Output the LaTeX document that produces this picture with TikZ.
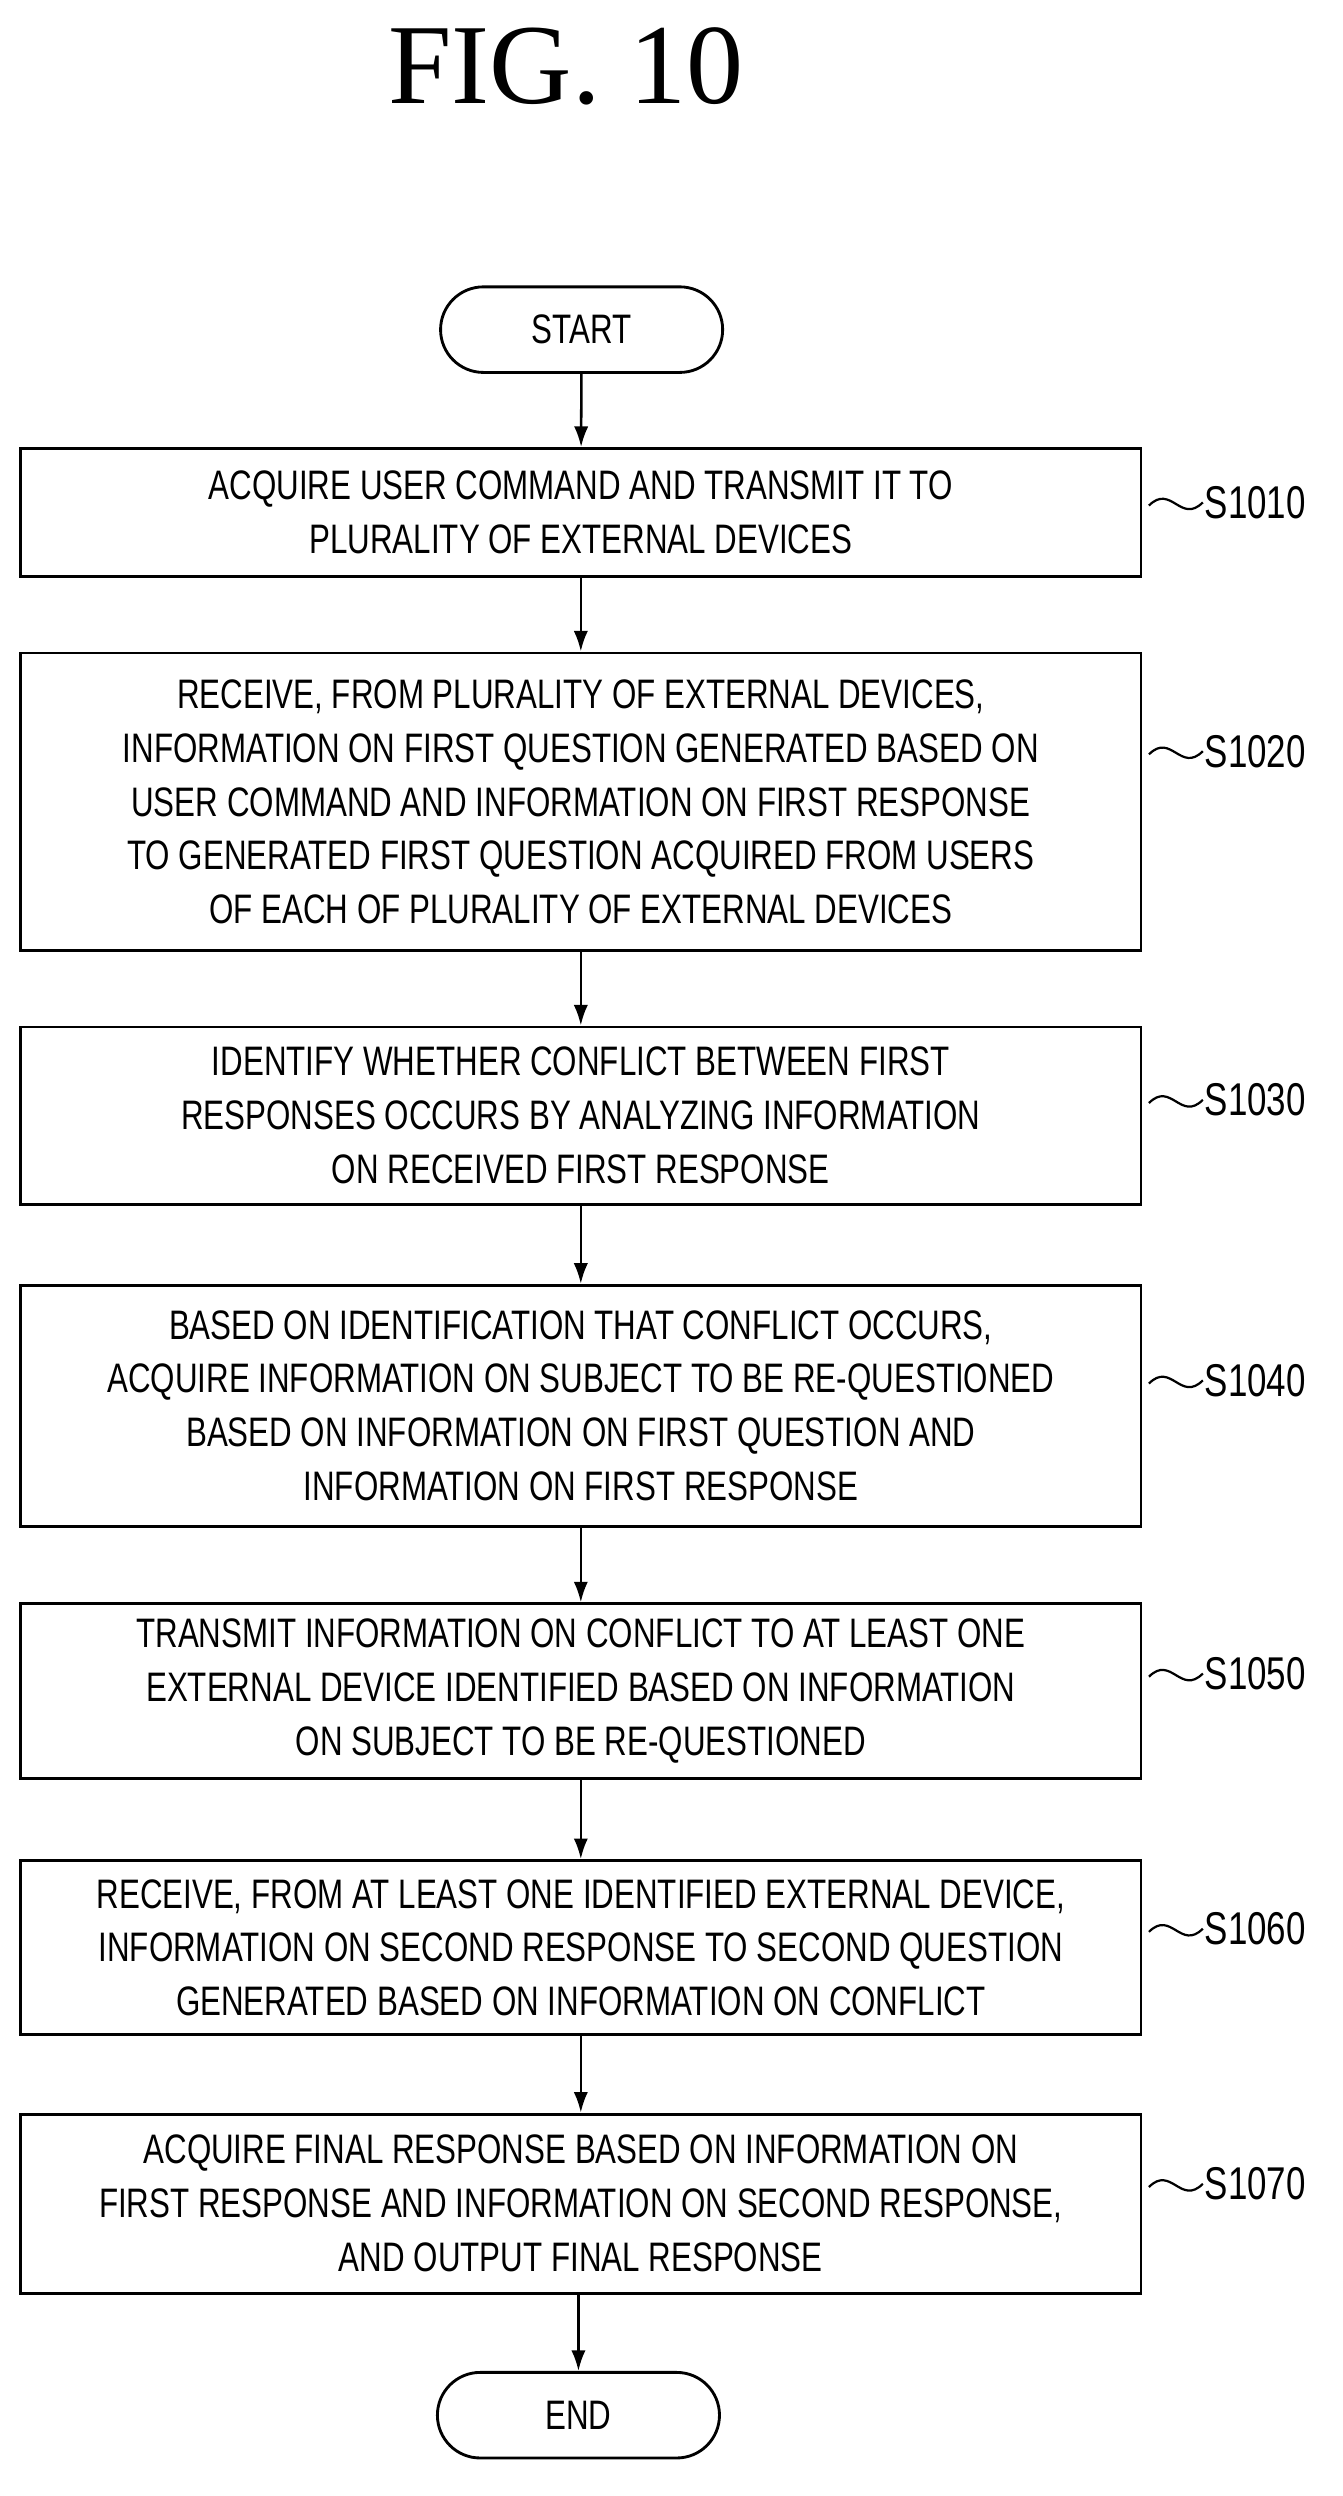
\documentclass[tikz,border=0pt]{standalone}
\usepackage{fontspec}
\setmainfont{Liberation Sans}[FakeStretch=0.76]
\newfontfamily\titlefont{Liberation Serif}
\usetikzlibrary{arrows.meta,positioning}
\newcommand\boxwidth{707pt}
\newcommand\boxx{366.5}

\begin{document}
\begin{tikzpicture}[x=1pt,y=-1pt,
    stepbox/.style={draw,line width=1.8pt,minimum width=\boxwidth,align=center,
      font=\fontsize{26}{34}\selectfont,inner sep=0pt},
    termbox/.style={draw,line width=1.8pt,rounded corners=27pt,minimum width=178pt,
      minimum height=54pt,font=\fontsize{26}{34}\selectfont},
    steplabel/.style={font=\fontsize{29}{34}\selectfont,inner sep=1pt},
    flow/.style={line width=1.6pt,-{Latex[length=13pt,width=9pt]}},
    wave/.style={line width=1.4pt}]
    \useasboundingbox (0,0) rectangle (847,1575);

    \node[font=\titlefont\fontsize{72}{72}\selectfont] (title) at (357,42) {FIG. 10};

    \node[termbox] (start) at (367,208) {START};
    \node[stepbox,minimum height=81pt] (b1) at (\boxx,323.5) {ACQUIRE USER COMMAND AND TRANSMIT IT TO\\PLURALITY OF EXTERNAL DEVICES};
    \node[stepbox,minimum height=188pt] (b2) at (\boxx,506) {RECEIVE, FROM PLURALITY OF EXTERNAL DEVICES,\\INFORMATION ON FIRST QUESTION GENERATED BASED ON\\USER COMMAND AND INFORMATION ON FIRST RESPONSE\\TO GENERATED FIRST QUESTION ACQUIRED FROM USERS\\OF EACH OF PLURALITY OF EXTERNAL DEVICES};
    \node[stepbox,minimum height=112pt] (b3) at (\boxx,704) {IDENTIFY WHETHER CONFLICT BETWEEN FIRST\\RESPONSES OCCURS BY ANALYZING INFORMATION\\ON RECEIVED FIRST RESPONSE};
    \node[stepbox,minimum height=152pt] (b4) at (\boxx,887) {BASED ON IDENTIFICATION THAT CONFLICT OCCURS,\\ACQUIRE INFORMATION ON SUBJECT TO BE RE-QUESTIONED\\BASED ON INFORMATION ON FIRST QUESTION AND\\INFORMATION ON FIRST RESPONSE};
    \node[stepbox,minimum height=110pt] (b5) at (\boxx,1067) {TRANSMIT INFORMATION ON CONFLICT TO AT LEAST ONE\\EXTERNAL DEVICE IDENTIFIED BASED ON INFORMATION\\ON SUBJECT TO BE RE-QUESTIONED};
    \node[stepbox,minimum height=110pt] (b6) at (\boxx,1229) {RECEIVE, FROM AT LEAST ONE IDENTIFIED EXTERNAL DEVICE,\\INFORMATION ON SECOND RESPONSE TO SECOND QUESTION\\GENERATED BASED ON INFORMATION ON CONFLICT};
    \node[stepbox,minimum height=113pt] (b7) at (\boxx,1390.5) {ACQUIRE FINAL RESPONSE BASED ON INFORMATION ON\\FIRST RESPONSE AND INFORMATION ON SECOND RESPONSE,\\AND OUTPUT FINAL RESPONSE};
    \node[termbox] (end) at (365,1524) {END};

    % step labels
    \node[steplabel,anchor=west] (l1) at (759,317) {S1010};
    \node[steplabel,anchor=west] (l2) at (759,474) {S1020};
    \node[steplabel,anchor=west] (l3) at (759,694) {S1030};
    \node[steplabel,anchor=west] (l4) at (759,871) {S1040};
    \node[steplabel,anchor=west] (l5) at (759,1056) {S1050};
    \node[steplabel,anchor=west] (l6) at (759,1217) {S1060};
    \node[steplabel,anchor=west] (l7) at (759,1378) {S1070};

    \foreach \b/\l in {b1/l1,b2/l2,b3/l3,b4/l4,b5/l5,b6/l6,b7/l7}
      \draw[wave] (\l.west) ++(-34,2) coordinate (w\l)
        (w\l) .. controls +(14,-14) and +(-14,14) .. (\l.west);

    \draw[flow] (start) -- (b1);
    \draw[flow] (b1) -- (b2);
    \draw[flow] (b2) -- (b3);
    \draw[flow] (b3) -- (b4);
    \draw[flow] (b4) -- (b5);
    \draw[flow] (b5) -- (b6);
    \draw[flow] (b6) -- (b7);
    \draw[flow] (b7.south -| end) -- (end);
  \end{tikzpicture}
\end{document}
